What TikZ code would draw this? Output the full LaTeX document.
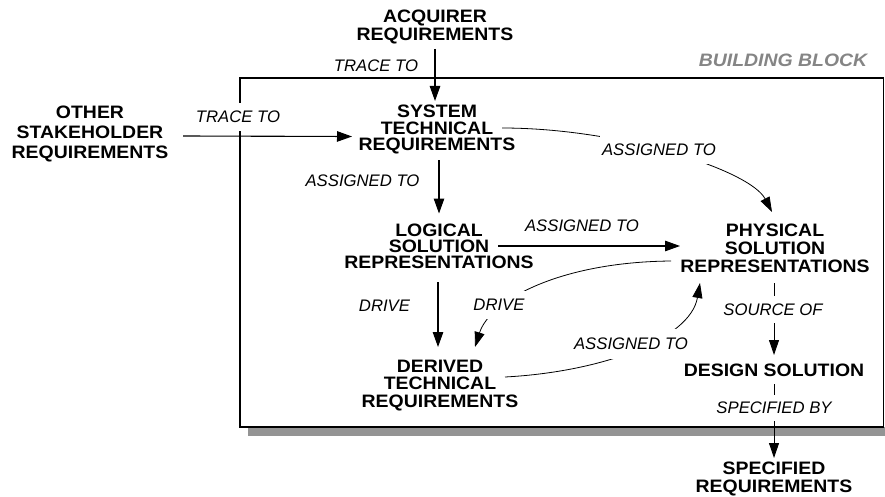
\documentclass[tikz,border=0pt]{standalone}
\usepackage{fontspec}
\setmainfont{Liberation Sans}
\newfontfamily\boldf{Liberation Sans}[FakeStretch=1.08]
\newfontfamily\itf{Liberation Sans}
\usetikzlibrary{arrows.meta}
\newcommand{\nf}[1]{\fontsize{18}{#1}\selectfont\boldf\bfseries}
\tikzset{
  blk/.style={align=center, inner sep=0pt, text=black},
  lab/.style={font=\fontsize{16.7}{18}\selectfont\itf\itshape, inner sep=0pt, text=black},
  wlab/.style={lab, fill=white, inner xsep=2pt, inner ysep=8pt},
  arr/.style={-{Triangle[length=15pt,width=10.5pt]}, line width=1.1pt, black},
  carr/.style={-{Triangle[length=15pt,width=10pt]}, line width=0.8pt, black},
}
\begin{document}
\begin{tikzpicture}[x=1pt,y=-1pt]
\useasboundingbox (0,0) rectangle (885,497);
% building block box with shadow
\fill[black!42] (247.5,427) rectangle (892,435.5);
\draw[line width=1.2pt, fill=white] (240,78) rectangle (883.5,427);
\node[font=\nf{18}\itshape, text=black!48, inner sep=0pt] (bb) at (783,60) {BUILDING BLOCK};

% nodes
\node[blk, font=\nf{17.7}] (acq) at (435,27) {ACQUIRER\\REQUIREMENTS};
\node[blk, font=\nf{16.3}] (sys) at (437,129.5) {SYSTEM\\TECHNICAL\\REQUIREMENTS};
\node[blk, font=\nf{20}] (other) at (90,133.5) {OTHER\\STAKEHOLDER\\REQUIREMENTS};
\node[blk, font=\nf{16.3}] (log) at (439,246.5) {LOGICAL\\SOLUTION\\REPRESENTATIONS};
\node[blk, font=\nf{18}] (phys) at (775,248) {PHYSICAL\\SOLUTION\\REPRESENTATIONS};
\node[blk, font=\nf{17.2}] (der) at (440,385.5) {DERIVED\\TECHNICAL\\REQUIREMENTS};
\node[blk, font=\nf{18}] (des) at (774,370) {DESIGN SOLUTION};
\node[blk, font=\nf{18.3}] (spec) at (774,479) {SPECIFIED\\REQUIREMENTS};

% labels
\node[lab] (t1) at (376,66) {TRACE TO};
\node[wlab] (t2) at (238,117) {TRACE TO};
\node[lab] (a1) at (362.5,181) {ASSIGNED TO};
\node[lab] (a3) at (582,226) {ASSIGNED TO};
\node[lab] (d1) at (384.5,306) {DRIVE};

% straight connectors
\draw[arr] ([shift={(0,22)}]acq.center) -- ([shift={(0,-28.5)}]acq.center |- sys.center);
\draw[arr] ([shift={(93,2.5)}]other.center) -- ([shift={(-85,7)}]sys.center);
\draw[arr] ([shift={(2,31)}]sys.center) -- ([shift={(0,-33)}]log.center);
\draw[arr] ([shift={(59,-0.5)}]log.center) -- ([shift={(-95,-2)}]phys.center);
\draw[arr] ([shift={(-1,35.5)}]log.center) -- ([shift={(-2,-38.5)}]der.center);

% curved connectors
\draw[carr] ([shift={(65,-1.5)}]sys.center) .. controls (620,128) and (750,170) .. ([shift={(-3,-36)}]phys.center);
\node[wlab] (a2) at (659,150) {ASSIGNED TO};

\draw[carr] ([shift={(-104,13)}]phys.center) .. controls (560,262) and (490,300) .. ([shift={(35,-38.5)}]der.center);
\node[wlab] (d2) at (499,305) {DRIVE};

\draw[carr] ([shift={(65,-8.5)}]der.center) .. controls (600,372) and (690,340) .. ([shift={(-75,35)}]phys.center);
\node[wlab, inner ysep=9pt] (a4) at (631,344) {ASSIGNED TO};

% vertical right chain
\draw[carr, line width=0.9pt] ([shift={(-1,35)}]phys.center) -- ([shift={(0,-15)}]des.center);
\node[wlab, inner ysep=8pt] (so) at (773,309.5) {SOURCE OF};
\draw[carr, line width=0.9pt] ([shift={(0,14)}]des.center) -- ([shift={(0,-21)}]spec.center);
\node[wlab, inner ysep=7.5pt] (sb) at (774,408) {SPECIFIED BY};
\end{tikzpicture}
\end{document}
